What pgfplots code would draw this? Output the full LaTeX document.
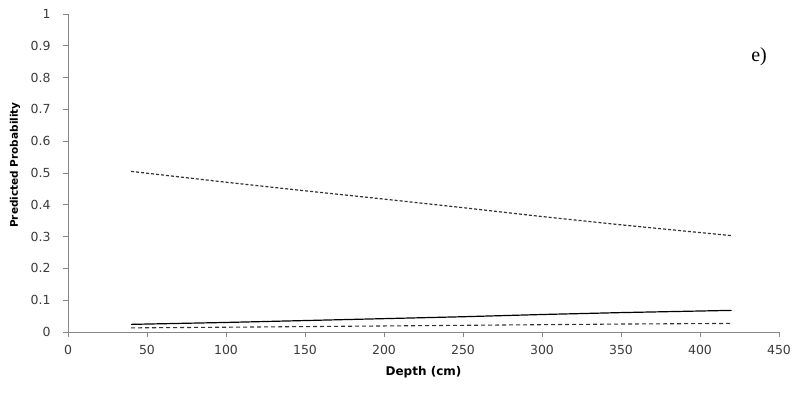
\documentclass[border=0pt]{standalone}
\usepackage{pgfplots}
\pgfplotsset{compat=1.18}
\usepackage{fontspec}
\setmainfont{DejaVu Sans}
\newfontfamily\serifpanel{Liberation Serif}
\definecolor{axisgrey}{RGB}{134,134,134}
\definecolor{ticktext}{RGB}{60,60,60}
\begin{document}
\begin{tikzpicture}[x=1pt,y=1pt]
\path[use as bounding box] (-68,-61) rectangle (730,332);
\begin{axis}[
  at={(0,0)}, anchor=origin,
  scale only axis, width=711pt, height=318pt,
  xmin=0, xmax=450, ymin=0, ymax=1,
  xtick={0,50,...,450}, ytick={0,0.1,...,1},
  axis x line*=bottom, axis y line*=left,
  axis line style={axisgrey, line width=0.9pt, -},
  tick style={axisgrey, line width=0.8pt},
  tick align=outside, major tick length=5pt,
  /pgf/number format/assume math mode=true,
  /pgf/number format/fixed,
  ticklabel style={font=\fontsize{12.5}{13}\selectfont, text=ticktext},
  xticklabel style={yshift=-5pt},
  yticklabel style={xshift=-9pt},
  xlabel={\textbf{Depth (cm)}},
  xlabel style={font=\fontsize{12}{12}\selectfont, at={(axis description cs:0.5,-0.126)}, anchor=center},
  ylabel={\textbf{Predicted Probability}},
  ylabel style={font=\fontsize{10.5}{11}\selectfont, at={(axis description cs:-0.0745,0.525)}, anchor=center, rotate=0},
  clip=false,
]
% upper curve
\addplot[black!80, line width=1.2pt, dash pattern=on 3pt off 2pt] coordinates {
  (40,0.505) (100,0.471) (150,0.444) (200,0.418) (250,0.391)
  (300,0.363) (350,0.337) (420,0.303)
};
% middle curve
\addplot[black, line width=1.2pt] coordinates {
  (40,0.024) (100,0.030) (150,0.036) (200,0.042) (250,0.048)
  (300,0.055) (350,0.061) (420,0.068)
};
% lower curve
\addplot[black!80, line width=1.1pt, dash pattern=on 4pt off 3pt] coordinates {
  (40,0.013) (100,0.015) (150,0.017) (200,0.019) (250,0.021)
  (300,0.023) (350,0.025) (420,0.027)
};
\node[font=\serifpanel\fontsize{20}{20}\selectfont, anchor=center]
  at (rel axis cs:0.972,0.865) {e)};
\end{axis}
\end{tikzpicture}
\end{document}
